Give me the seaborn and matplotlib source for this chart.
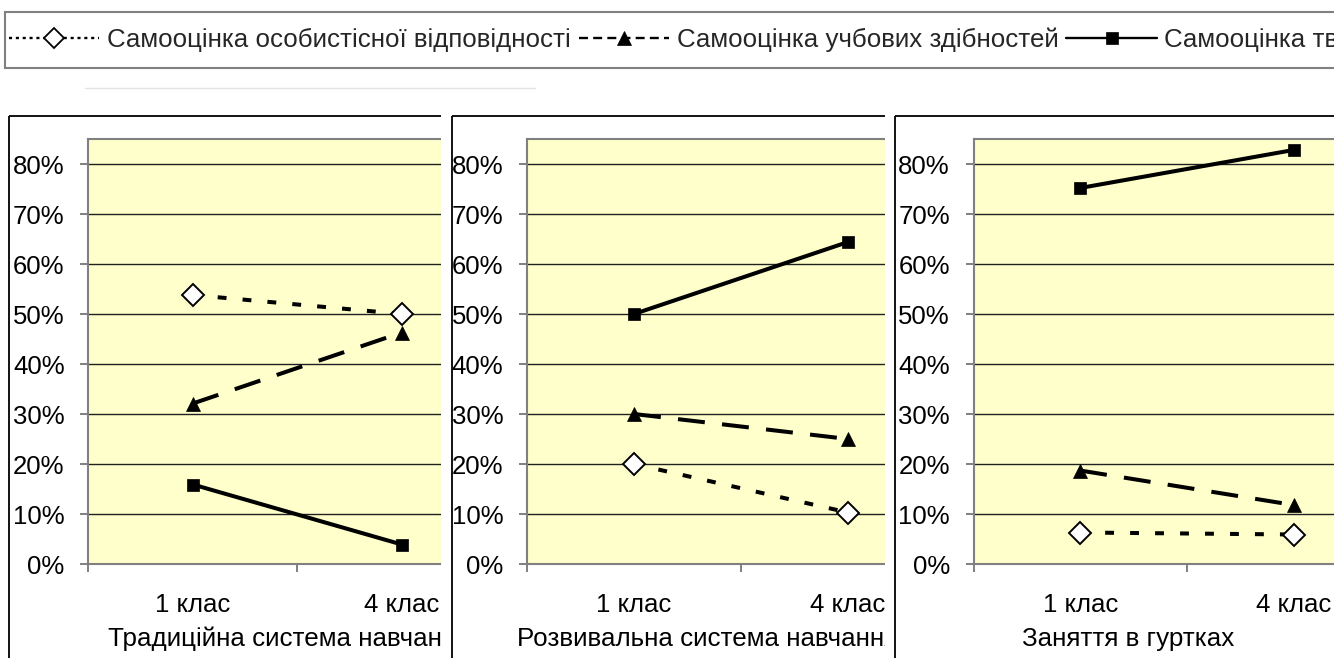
import matplotlib
matplotlib.use("Agg")
import matplotlib.pyplot as plt
import seaborn as sns
import pandas as pd
from matplotlib.lines import Line2D
from matplotlib.patches import Rectangle
from matplotlib.ticker import PercentFormatter, FixedLocator

# ---------------- data ----------------
classes = ["1 клас", "4 клас"]
panel_titles = ["Традиційна система навчання",
                "Розвивальна система навчання",
                "Заняття в гуртках"]
series_names = ["Самооцінка особистісної відповідності",
                "Самооцінка учбових здібностей",
                "Самооцінка творчих здібностей"]

# values per panel: [1 клас, 4 клас]
personal = [[0.538, 0.500], [0.200, 0.103], [0.063, 0.059]]
learning = [[0.321, 0.463], [0.300, 0.250], [0.187, 0.118]]
creative = [[0.159, 0.039], [0.500, 0.644], [0.752, 0.828]]
y_ticks = [0.0, 0.1, 0.2, 0.3, 0.4, 0.5, 0.6, 0.7, 0.8]

rows = []
for p, title in enumerate(panel_titles):
    for name, vals in zip(series_names, [personal, learning, creative]):
        for c, v in zip(classes, vals[p]):
            rows.append({"panel": title, "series": name, "klas": c, "value": v})
df = pd.DataFrame(rows)

# ---------------- styling ----------------
sns.set_theme(style="white")
plt.rcParams["font.family"] = ["Liberation Sans", "DejaVu Sans"]

W, H = 1334, 658
fig = plt.figure(figsize=(W / 100, H / 100), dpi=100)
fig.patch.set_facecolor("white")

styles = {
    series_names[0]: dict(linestyle=(0, (2.2, 4.0)), marker="D", ms=11.5,
                          mfc="white", mec="black", mew=1.4),
    series_names[1]: dict(linestyle=(0, (6.7, 4.3)), marker="^", ms=10.5,
                          mfc="black", mec="black", mew=0.5),
    series_names[2]: dict(linestyle="-", marker="s", ms=9,
                          mfc="black", mec="black", mew=0.5),
}

# layout (pixels)
mask_left = [0, 441, 885]
border_x = [9, 452, 895]
box_top = 115.5
ax_left = [88.3, 527.0, 973.5]
ax_width = [418.0, 428.0, 426.7]
ax_top, ax_bottom = 139.0, 564.0
label_x = [108, 517, 1022]

def fx(x):
    return x / W

def fy(y):
    return 1 - y / H

GRAY = "#808080"

for i, title in enumerate(panel_titles):
    # chart-area background (masks previous panel) with border
    bg = fig.add_axes([fx(mask_left[i]), 0, (W - mask_left[i]) / W, (H - 113) / H])
    bg.set_zorder(2 * i)
    bg.set_facecolor("white")
    bg.set_xlim(mask_left[i], W)
    bg.set_ylim(H, 113)
    bg.set_xticks([])
    bg.set_yticks([])
    for s in bg.spines.values():
        s.set_visible(False)
    bg.plot([border_x[i], border_x[i]], [box_top, H + 5], color="black", lw=1.3,
            solid_capstyle="butt")
    bg.plot([border_x[i], W + 5], [box_top, box_top], color="black", lw=1.3,
            solid_capstyle="butt")

    ax = fig.add_axes([fx(ax_left[i]), fy(ax_bottom), ax_width[i] / W,
                       (ax_bottom - ax_top) / H])
    ax.set_zorder(2 * i + 1)
    ax.set_facecolor("#FFFFCC")

    sub = df[df["panel"] == title]
    for name in series_names:
        d = sub[sub["series"] == name]
        sns.lineplot(data=d, x="klas", y="value", ax=ax, color="black",
                     lw=2.9, errorbar=None, sort=False, **styles[name])

    ax.set_xlim(-0.5, 1.5)
    ax.set_ylim(0, 0.85)
    ax.yaxis.set_major_locator(FixedLocator(y_ticks))
    ax.yaxis.set_major_formatter(PercentFormatter(xmax=1, decimals=0))
    ax.set_xticks([0, 1])
    ax.set_xticklabels(classes)
    ax.set_xticks([-0.5, 0.5, 1.5], minor=True)
    ax.set_xlabel("")
    ax.set_ylabel("")

    ax.yaxis.grid(True, color="#202020", lw=1.0)
    ax.xaxis.grid(False)
    ax.set_axisbelow(True)

    ax.tick_params(axis="y", which="major", direction="out", length=6, width=1.4,
                   color=GRAY, labelsize=18.5, pad=11, labelcolor="black", left=True)
    ax.tick_params(axis="x", which="major", length=0, labelsize=18.5, pad=21,
                   labelcolor="black")
    ax.tick_params(axis="x", which="minor", direction="out", length=6, width=1.4,
                   color=GRAY, bottom=True)

    for side in ["left", "bottom", "top"]:
        ax.spines[side].set_visible(True)
        ax.spines[side].set_color(GRAY)
        ax.spines[side].set_linewidth(1.5)
    ax.spines["right"].set_visible(False)

    ax.text((label_x[i] - ax_left[i]) / ax_width[i],
            -(639 - ax_bottom) / (ax_bottom - ax_top),
            title, transform=ax.transAxes, ha="left", va="center",
            fontsize=18.7, color="black", clip_on=False)

# faint line under legend
fig.add_artist(Line2D([fx(85), fx(535)], [fy(87.5), fy(87.5)], color="#e4e4e4", lw=1.0))

# ---------------- legend ----------------
legend_box = Rectangle((fx(5), fy(68)), (W + 10 - 5) / W, 56 / H,
                       transform=fig.transFigure, facecolor="white",
                       edgecolor=GRAY, lw=1.5, zorder=40)
fig.add_artist(legend_box)

leg_styles = [
    dict(linestyle=(0, (1.3, 1.6)), marker="D", ms=10.5, mfc="white", mec="black", mew=1.3),
    dict(linestyle=(0, (3.8, 2.2)), marker="^", ms=10, mfc="black", mec="black", mew=0.5),
    dict(linestyle="-", marker="s", ms=8.5, mfc="black", mec="black", mew=0.5),
]
handles = [Line2D([0], [0], color="black", lw=1.7, **st) for st in leg_styles]
leg = fig.legend(handles, series_names, loc="center left",
                 bbox_to_anchor=(fx(9), fy(40)), ncol=3, frameon=False,
                 borderaxespad=0.0, borderpad=0.0,
                 handlelength=3.5, handleheight=0.7,
                 handletextpad=0.3, columnspacing=0.3, numpoints=1,
                 prop=dict(family=["Liberation Sans", "DejaVu Sans"], size=18.6))
leg.set_zorder(50)

fig.savefig("out.png", dpi=100, facecolor="white")
